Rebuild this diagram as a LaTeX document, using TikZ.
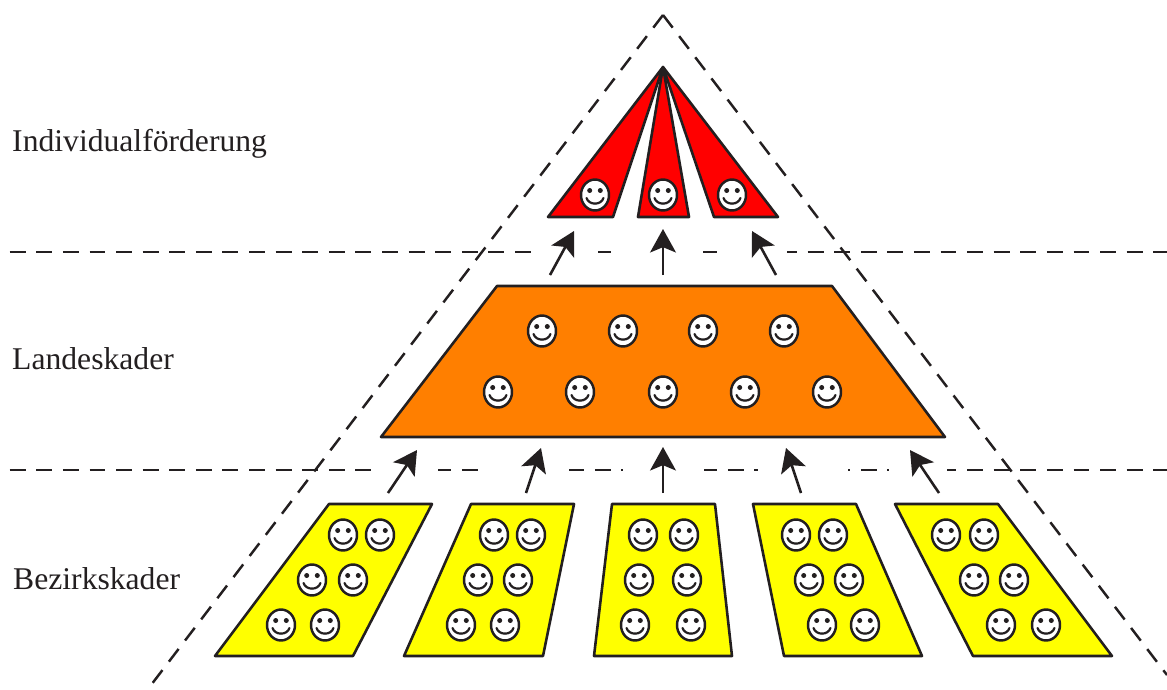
\documentclass[tikz,border=0pt]{standalone}
\usepackage{fontspec}
\setmainfont{Liberation Serif}
\usetikzlibrary{arrows.meta}
\definecolor{inkblack}{HTML}{231F20}
\definecolor{tieryellow}{RGB}{255,255,0}
\definecolor{tierorange}{RGB}{255,127,0}
\definecolor{tierred}{RGB}{255,0,0}
\tikzset{
  tierlabel/.style={anchor=base west,inner sep=0pt,font=\fontsize{27}{31}\selectfont,text=inkblack},
  rim/.style={draw=inkblack,line width=2.1pt,dash pattern=on 13.6pt off 9.1pt},
  guide/.style={rim,dash phase=14.4pt},
  tierbox/.style={draw=inkblack,line width=2.2pt,line join=round},
  uparrow/.style={draw=inkblack,line width=2.2pt,-{Stealth[length=20pt,width=22pt,inset=4.5pt]}},
  gapmask/.style={fill=white,draw=none},
  pics/smiley/.style={code={
    \draw[inkblack,fill=white,line width=2.1pt] (0,0) ellipse [x radius=14,y radius=15.5];
    \fill[inkblack] (-5.3,-4.5) circle [radius=2.5];
    \fill[inkblack] (5.3,-4.5) circle [radius=2.5];
    \draw[inkblack,line width=1.9pt,line cap=round] (-8.5,3) .. controls (-6,10.5) and (6,10.5) .. (8.5,3);
  }}
}
\begin{document}
\begin{tikzpicture}[x=0.03cm,y=-0.03cm]
    \useasboundingbox (0,0) rectangle (1167,689);
    % Labels of the tiers
    \node[tierlabel] (indiv) at (12,151) {Individualförderung};
    \node[tierlabel] (land) at (12,369) {Landeskader};
    \node[tierlabel] (bezirk) at (13,589) {Bezirkskader};
    % Horizontal guides, broken around the arrows
    \draw[guide] (0,252) -- (1167,252);
    \draw[guide] (0,470) -- (1167,470);
    \foreach \xa/\xb in {532/598,615/703,720/787}
        \fill[gapmask] (\xa,248) rectangle (\xb,256);
    \foreach \xa/\xb in {372/438,478/569,623/704,758/848,889/947}
        \fill[gapmask] (\xa,466) rectangle (\xb,474);
    % Outer triangle
    \coordinate (apex) at (663,15);
    \coordinate (footl) at (148,689);
    \coordinate (footr) at (1167,675);
    \draw[rim] (apex) -- (footl);
    \draw[rim] (apex) -- (footr);
    % Red wedges
    \coordinate (tip) at (663,67);
    \filldraw[tierbox,fill=tierred] (tip) -- (548,217) -- (613,217) -- cycle;
    \filldraw[tierbox,fill=tierred] (tip) -- (638,217) -- (689,217) -- cycle;
    \filldraw[tierbox,fill=tierred] (tip) -- (714,217) -- (778,217) -- cycle;
    \foreach \x in {595,663,732}
        \pic at (\x,195) {smiley};
    % Orange tier
    \filldraw[tierbox,fill=tierorange] (497,286) -- (832,286) -- (945,437) -- (381,437) -- cycle;
    \foreach \x in {542,623,703,784}
        \pic at (\x,331) {smiley};
    \foreach \x in {498,580,663,745,827}
        \pic at (\x,392) {smiley};
    % Yellow tier
    \foreach \ta/\tb/\ba/\bb in {329/432/215/353,471/574/404/543,612/715/594/732,753/856/784/922,895/998/973/1112}
        \filldraw[tierbox,fill=tieryellow] (\ta,504) -- (\tb,504) -- (\bb,656) -- (\ba,656) -- cycle;
    \foreach \x/\y in {343/535,380/535,312/580,353/580,281/625,325/625,
                       494/535,531/535,478/580,518/580,461/625,505/625,
                       643/535,684/535,639/580,687/580,635/625,691/625,
                       796/535,833/535,809/580,849/580,822/625,865/625,
                       946/535,984/535,974/580,1014/580,1001/625,1046/625}
        \pic at (\x,\y) {smiley};
    % Arrows between the tiers
    \foreach \n/\xa/\xb/\yb in {a/550/574/231,b/663/663/229,c/776/752/231}{
        \coordinate (tail\n) at (\xa,275);
        \coordinate (head\n) at (\xb,\yb);
        \draw[uparrow] (tail\n) -- (head\n);
    }
    \foreach \n/\xa/\xb/\yb in {d/388/417/450,e/526/541/448,f/663/663/447,g/801/786/448,h/939/910/450}{
        \coordinate (tail\n) at (\xa,493);
        \coordinate (head\n) at (\xb,\yb);
        \draw[uparrow] (tail\n) -- (head\n);
    }
\end{tikzpicture}
\end{document}
